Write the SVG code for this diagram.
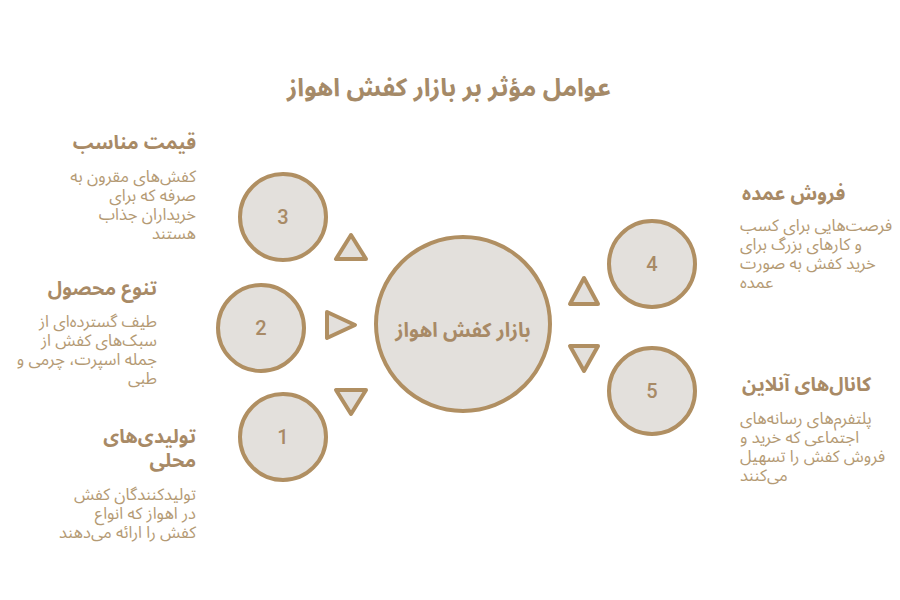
<svg xmlns="http://www.w3.org/2000/svg" width="900" height="600" viewBox="0 0 900 600">
<style>
.bg{fill:#ffffff}
.node{fill:#e3e0dc;stroke:#b08f62;stroke-width:4}
.tri{fill:#e3e0dc;stroke:#b08f62;stroke-width:4;stroke-linejoin:round}
.num{font-family:Roboto,"Liberation Sans",sans-serif;font-size:20px;font-weight:500;fill:#a88a66;text-anchor:middle}
.title{font-family:"Noto Sans Arabic","DejaVu Sans",sans-serif;font-size:25px;font-weight:bold;fill:#a58a68;text-anchor:middle}
.center{font-family:"Noto Sans Arabic","DejaVu Sans",sans-serif;font-size:20px;font-weight:bold;fill:#a88a66;text-anchor:middle}
.head{font-family:"Noto Sans Arabic","DejaVu Sans",sans-serif;font-size:19.5px;font-weight:bold;fill:#a88a66}
.body{font-family:"Noto Sans Arabic","DejaVu Sans",sans-serif;font-size:16.5px;fill:#b49a74}
.l{direction:rtl;text-anchor:start}
.r{direction:rtl;text-anchor:end}
</style>
<rect class="bg" x="0" y="0" width="900" height="600"/>
<text class="title" x="449" y="96" direction="rtl">عوامل مؤثر بر بازار کفش اهواز</text>

<g id="connectors">
<polygon class="tri" points="351,235 336,259 366,259"/>
<polygon class="tri" points="327,312 355,325 327,338"/>
<polygon class="tri" points="336,390 366,390 351,414"/>
<polygon class="tri" points="584,278 570,304 598,304"/>
<polygon class="tri" points="570,346 598,346 584,371"/>
</g>

<g id="center">
<circle class="node" cx="463" cy="324" r="87"/>
<text class="center" x="463" y="337" direction="rtl">بازار کفش اهواز</text>
</g>

<g id="node3">
<circle class="node" cx="283" cy="217" r="43"/>
<text class="num" x="283" y="224">3</text>
<text class="head l" x="196" y="149">قیمت مناسب</text>
<text class="body l" x="196" y="182">کفش‌های مقرون به</text>
<text class="body l" x="196" y="201">صرفه که برای</text>
<text class="body l" x="196" y="220">خریداران جذاب</text>
<text class="body l" x="196" y="239">هستند</text>
</g>

<g id="node2">
<circle class="node" cx="261" cy="328" r="43"/>
<text class="num" x="261" y="335">2</text>
<text class="head l" x="157" y="295">تنوع محصول</text>
<text class="body l" x="157" y="327">طیف گسترده‌ای از</text>
<text class="body l" x="157" y="346">سبک‌های کفش از</text>
<text class="body l" x="157" y="365">جمله اسپرت، چرمی و</text>
<text class="body l" x="157" y="384">طبی</text>
</g>

<g id="node1">
<circle class="node" cx="283" cy="437" r="43"/>
<text class="num" x="283" y="444">1</text>
<text class="head l" x="196" y="443">تولیدی‌های</text>
<text class="head l" x="196" y="467">محلی</text>
<text class="body l" x="196" y="500">تولیدکنندگان کفش</text>
<text class="body l" x="196" y="519">در اهواز که انواع</text>
<text class="body l" x="196" y="538">کفش را ارائه می‌دهند</text>
</g>

<g id="node4">
<circle class="node" cx="652" cy="264" r="43"/>
<text class="num" x="652" y="271">4</text>
<text class="head r" x="742" y="200">فروش عمده</text>
<text class="body r" x="740" y="231">فرصت‌هایی برای کسب</text>
<text class="body r" x="740" y="250">و کارهای بزرگ برای</text>
<text class="body r" x="740" y="269">خرید کفش به صورت</text>
<text class="body r" x="740" y="288">عمده</text>
</g>

<g id="node5">
<circle class="node" cx="652" cy="391" r="43"/>
<text class="num" x="652" y="398">5</text>
<text class="head r" x="742" y="391">کانال‌های آنلاین</text>
<text class="body r" x="740" y="424">پلتفرم‌های رسانه‌های</text>
<text class="body r" x="740" y="443">اجتماعی که خرید و</text>
<text class="body r" x="740" y="462">فروش کفش را تسهیل</text>
<text class="body r" x="740" y="481">می‌کنند</text>
</g>
</svg>
